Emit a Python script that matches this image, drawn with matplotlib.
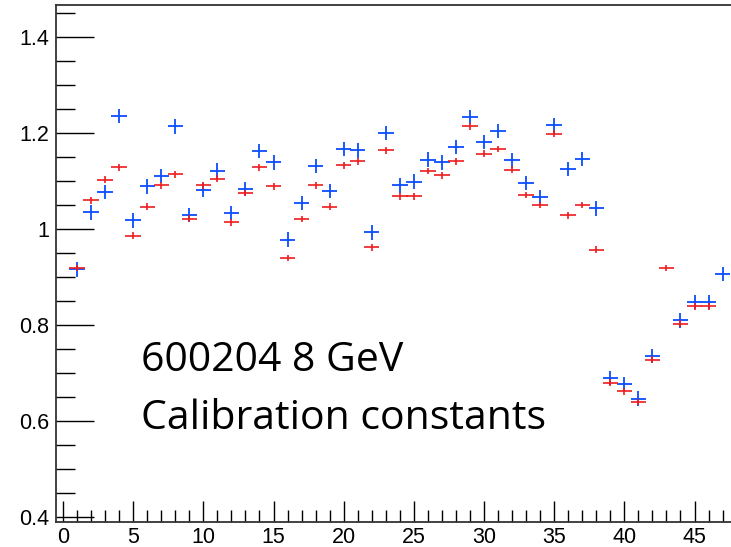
import matplotlib
matplotlib.use('Agg')
import matplotlib.pyplot as plt
import numpy as np

# channel number and calibration constants
channel = np.arange(1, 48)
blue = [0.915, 1.034, 1.076, 1.235, 1.017, 1.088, 1.110, 1.213, 1.029, 1.081,
        1.121, 1.033, 1.083, 1.162, 1.138, 0.977, 1.054, 1.130, 1.078, 1.166,
        1.163, 0.992, 1.199, 1.090, 1.098, 1.144, 1.138, 1.170, 1.233, 1.181,
        1.204, 1.142, 1.095, 1.066, 1.215, 1.124, 1.145, 1.042, 0.689, 0.676,
        0.646, 0.735, np.nan, 0.809, 0.847, 0.847, 0.906]
red = [0.918, 1.059, 1.102, 1.128, 0.985, 1.046, 1.090, 1.113, 1.021, 1.090,
       1.104, 1.013, 1.074, 1.128, 1.088, 0.939, 1.020, 1.090, 1.046, 1.132,
       1.140, 0.961, 1.163, 1.067, 1.067, 1.120, 1.111, 1.140, 1.213, 1.156,
       1.166, 1.123, 1.070, 1.049, 1.198, 1.028, 1.049, 0.956, 0.679, 0.661,
       0.639, 0.727, 0.918, 0.802, 0.838, 0.838, np.nan]

plt.rcParams['font.family'] = ['Liberation Sans', 'DejaVu Sans']

W, H = 731, 547
fig = plt.figure(figsize=(W / 100, H / 100), dpi=100)
ax = fig.add_axes([0.077, 0.045, 0.923, 0.945])

ax.errorbar(channel, blue, xerr=0.55, yerr=0.015, fmt='none',
            ecolor='#0a4cff', elinewidth=1.3, capsize=0)
ax.errorbar(channel, red, xerr=0.55, yerr=0.007, fmt='none',
            ecolor='#ee1c1c', elinewidth=1.2, capsize=0)

ax.set_xlim(-0.48, 47.6)
ax.set_ylim(0.388, 1.465)

ax.set_xticks(np.arange(0, 50, 5))
ax.set_xticks(np.arange(0, 48, 1), minor=True)
ax.set_yticks([0.4, 0.6, 0.8, 1.0, 1.2, 1.4])
ax.set_yticklabels(['0.4', '0.6', '0.8', '1', '1.2', '1.4'])
ax.set_yticks(np.arange(0.4, 1.46, 0.05), minor=True)

ax.tick_params(axis='both', which='both', direction='in', labelsize=15.5,
               color='black', width=1.0)
ax.tick_params(axis='y', which='major', length=27, pad=5)
ax.tick_params(axis='y', which='minor', length=14)
ax.tick_params(axis='x', which='major', length=15, pad=3)
ax.tick_params(axis='x', which='minor', length=9)

for side in ['left', 'bottom', 'top']:
    ax.spines[side].set_linewidth(1.3)
    ax.spines[side].set_color('#333333')
ax.spines['right'].set_visible(False)

# label, positions in pixels from the top left corner
fig.text(141 / W, 1 - 371 / H, '600204 8 GeV', fontsize=29.5,
         family='Open Sans', va='baseline', ha='left')
fig.text(141 / W, 1 - 429 / H, 'Calibration constants', fontsize=29.5,
         family='Open Sans', va='baseline', ha='left')

fig.savefig('out.png', dpi=100)
